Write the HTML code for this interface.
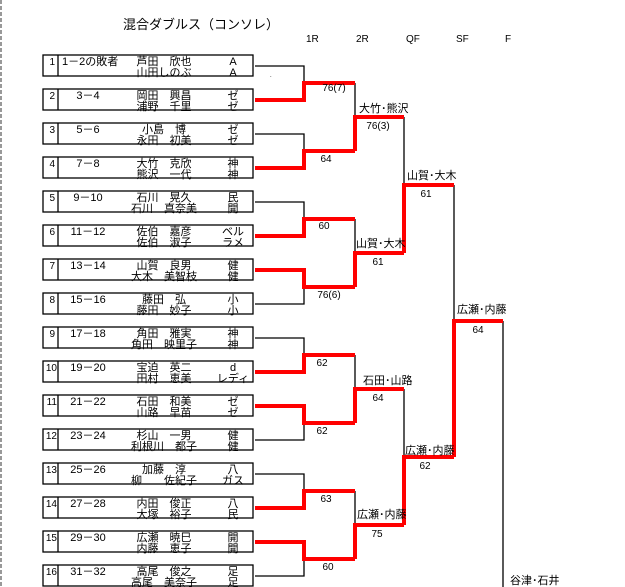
<!DOCTYPE html>
<html><head><meta charset="utf-8"><style>
html,body{margin:0;padding:0;background:#fff;width:625px;height:587px;overflow:hidden}
svg text{font-family:"Liberation Sans","Noto Sans CJK JP",sans-serif;fill:#000}
</style></head><body>
<svg width="625" height="587" viewBox="0 0 625 587" xmlns="http://www.w3.org/2000/svg">
<line x1="1" y1="0" x2="1" y2="587" stroke="#999" stroke-width="2" stroke-dasharray="4,2"/>
<text x="123" y="29" font-size="13">混合ダブルス（コンソレ）</text>
<g font-size="10"><text x="306" y="42">1R</text><text x="356" y="42">2R</text><text x="406" y="42">QF</text><text x="456" y="42">SF</text><text x="505" y="42">F</text></g>
<g fill="none" stroke="#000" stroke-width="1.3">
<rect x="43" y="55" width="210" height="21"/><rect x="43" y="89" width="210" height="21"/><rect x="43" y="123" width="210" height="21"/><rect x="43" y="157" width="210" height="21"/>
<rect x="43" y="191" width="210" height="21"/><rect x="43" y="225" width="210" height="21"/><rect x="43" y="259" width="210" height="21"/><rect x="43" y="293" width="210" height="21"/>
<rect x="43" y="327" width="210" height="21"/><rect x="43" y="361" width="210" height="21"/><rect x="43" y="395" width="210" height="21"/><rect x="43" y="429" width="210" height="21"/>
<rect x="43" y="463" width="210" height="21"/><rect x="43" y="497" width="210" height="21"/><rect x="43" y="531" width="210" height="21"/><rect x="43" y="565" width="210" height="21"/>
<path d="M58 55v21M58 89v21M58 123v21M58 157v21M58 191v21M58 225v21M58 259v21M58 293v21M58 327v21M58 361v21M58 395v21M58 429v21M58 463v21M58 497v21M58 531v21M58 565v21"/>
<path d="M255 66H304V83M255 134H304V151M255 202H304V219M255 304H304V287M255 338H304V355M255 440H304V423M255 474H304V491M255 576H304V559"/>
<path d="M355 83V117M355 219V253M355 355V389M355 491V525M404 117V185M404 389V457M454 185V321M503 321V587"/>
</g>
<g fill="none" stroke="#f00" stroke-width="4">
<path d="M255 100H304V83H355M255 168H304V151H355M255 236H304V219H355M255 270H304V287H355M255 372H304V355H355M255 406H304V423H355M255 508H304V491H355M255 542H304V559H355"/>
<path d="M355 151V117H404M355 287V253H404M355 423V389H404M355 559V525H404"/>
<path d="M404 253V185H454M404 525V457H454M454 457V321H503"/>
</g>
<g font-size="10">
<g text-anchor="end"><text x="55" y="65">1</text><text x="55" y="99">2</text><text x="55" y="133">3</text><text x="55" y="167">4</text><text x="55" y="201">5</text><text x="55" y="235">6</text><text x="55" y="269">7</text><text x="55" y="303">8</text><text x="55" y="337">9</text><text x="57" y="371">10</text><text x="57" y="405">11</text><text x="57" y="439">12</text><text x="57" y="473">13</text><text x="57" y="507">14</text><text x="57" y="541">15</text><text x="57" y="575">16</text></g>
<g font-size="11">
<text x="62" y="65">1－2の敗者</text>
<g text-anchor="middle"><text x="88" y="99">3－4</text><text x="88" y="133">5－6</text><text x="88" y="167">7－8</text><text x="88" y="201">9－10</text><text x="88" y="235">11－12</text><text x="88" y="269">13－14</text><text x="88" y="303">15－16</text><text x="88" y="337">17－18</text><text x="88" y="371">19－20</text><text x="88" y="405">21－22</text><text x="88" y="439">23－24</text><text x="88" y="473">25－26</text><text x="88" y="507">27－28</text><text x="88" y="541">29－30</text><text x="88" y="575">31－32</text></g>
<g text-anchor="middle">
<text x="164" y="65">芦田　欣也</text><text x="164" y="76">山田しのぶ</text>
<text x="164" y="99">岡田　興昌</text><text x="164" y="110">浦野　千里</text>
<text x="164" y="133">小島　博</text><text x="164" y="144">永田　初美</text>
<text x="164" y="167">大竹　克欣</text><text x="164" y="178">熊沢　一代</text>
<text x="164" y="201">石川　晃久</text><text x="164" y="212">石川　真奈美</text>
<text x="164" y="235">佐伯　嘉彦</text><text x="164" y="246">佐伯　淑子</text>
<text x="164" y="269">山賀　良男</text><text x="164" y="280">大木　美智枝</text>
<text x="164" y="303">藤田　弘</text><text x="164" y="314">藤田　妙子</text>
<text x="164" y="337">角田　雅実</text><text x="164" y="348">角田　映里子</text>
<text x="164" y="371">宝迫　英二</text><text x="164" y="382">田村　恵美</text>
<text x="164" y="405">石田　和美</text><text x="164" y="416">山路　早苗</text>
<text x="164" y="439">杉山　一男</text><text x="164" y="450">利根川　都子</text>
<text x="164" y="473">加藤　淳</text><text x="164" y="484">柳　　佐紀子</text>
<text x="164" y="507">内田　俊正</text><text x="164" y="518">大塚　裕子</text>
<text x="164" y="541">広瀬　暁巳</text><text x="164" y="552">内藤　恵子</text>
<text x="164" y="575">高尾　俊之</text><text x="164" y="586">高尾　美奈子</text>
<text x="233" y="65">A</text><text x="233" y="76">A</text>
<text x="233" y="99">ゼ</text><text x="233" y="110">ゼ</text>
<text x="233" y="133">ゼ</text><text x="233" y="144">ゼ</text>
<text x="233" y="167">神</text><text x="233" y="178">神</text>
<text x="233" y="201">民</text><text x="233" y="212">開</text>
<text x="233" y="235">ベル</text><text x="233" y="246">ラメ</text>
<text x="233" y="269">健</text><text x="233" y="280">健</text>
<text x="233" y="303">小</text><text x="233" y="314">小</text>
<text x="233" y="337">神</text><text x="233" y="348">神</text>
<text x="233" y="371">d</text><text x="233" y="382">レディ</text>
<text x="233" y="405">ゼ</text><text x="233" y="416">ゼ</text>
<text x="233" y="439">健</text><text x="233" y="450">健</text>
<text x="233" y="473">八</text><text x="233" y="484">ガス</text>
<text x="233" y="507">八</text><text x="233" y="518">民</text>
<text x="233" y="541">開</text><text x="233" y="552">開</text>
<text x="233" y="575">足</text><text x="233" y="586">足</text>
</g>
</g>
<g text-anchor="middle">
<text x="334" y="91">76(7)</text><text x="326" y="162">64</text><text x="324" y="229">60</text><text x="329" y="298">76(6)</text>
<text x="322" y="366">62</text><text x="322" y="434">62</text><text x="326" y="502">63</text><text x="328" y="570">60</text>
<text x="378" y="129">76(3)</text><text x="378" y="265">61</text><text x="378" y="401">64</text><text x="377" y="537">75</text>
<text x="426" y="197">61</text><text x="425" y="469">62</text><text x="478" y="333">64</text>
</g>
<text x="270" y="77" font-size="6">.</text>
</g>
<g font-size="11">
<text x="359" y="112">大竹･熊沢</text><text x="356" y="247">山賀･大木</text><text x="363" y="384">石田･山路</text><text x="357" y="518">広瀬･内藤</text>
<text x="407" y="179">山賀･大木</text><text x="405" y="454">広瀬･内藤</text><text x="457" y="313">広瀬･内藤</text><text x="510" y="584">谷津･石井</text>
</g>
</svg>
</body></html>
